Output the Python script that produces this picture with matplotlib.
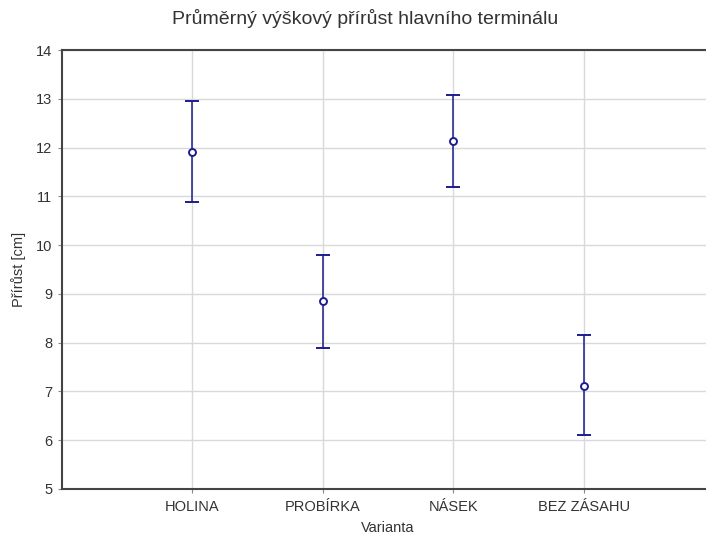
import matplotlib
matplotlib.use('Agg')
import matplotlib.pyplot as plt
import numpy as np

plt.rcParams['font.family'] = ['Liberation Sans', 'DejaVu Sans']

# mean increment per variant with its interval bounds (cm)
varianty = ['HOLINA', 'PROBÍRKA', 'NÁSEK', 'BEZ ZÁSAHU']
prumer = [11.90, 8.85, 12.13, 7.12]
horni = [12.95, 9.80, 13.08, 8.15]
dolni = [10.88, 7.90, 11.20, 6.10]

NAVY = '#1c1c8f'
TEXT = '#333333'

fig = plt.figure(figsize=(7.06, 5.38), dpi=100)
ax = fig.add_axes([62 / 706, 49 / 538, 652 / 706, 439 / 538])

x = np.arange(len(varianty))
m = np.array(prumer)
yerr = [m - np.array(dolni), np.array(horni) - m]
ax.errorbar(x, m, yerr=yerr, fmt='o', color=NAVY, ecolor=NAVY,
            elinewidth=1.1, capsize=5, capthick=1.1,
            ms=5, mfc='white', mec=NAVY, mew=1.4, zorder=3)

ax.set_xlim(-1, 4)
ax.set_ylim(5, 14)
ax.set_xticks(x)
ax.set_xticklabels(varianty)
ax.set_yticks(np.arange(5, 15))

ax.grid(True, color='#d9d9d9', lw=1.0)
ax.set_axisbelow(True)
for s in ax.spines.values():
    s.set_color('#444444')
    s.set_linewidth(1.5)

ax.tick_params(axis='both', length=3, width=0.8, color='#888888',
               labelsize=10.5, labelcolor=TEXT, pad=4)
ax.tick_params(axis='x', pad=5)

ax.set_xlabel('Varianta', fontsize=10.5, color=TEXT, labelpad=5)
ax.set_ylabel('Přírůst [cm]', fontsize=10.5, color=TEXT, labelpad=7)
fig.text(365 / 706, 1 - 19 / 538, 'Průměrný výškový přírůst hlavního terminálu',
         ha='center', va='center', fontsize=14, color=TEXT)

fig.savefig('out.png', dpi=100)
